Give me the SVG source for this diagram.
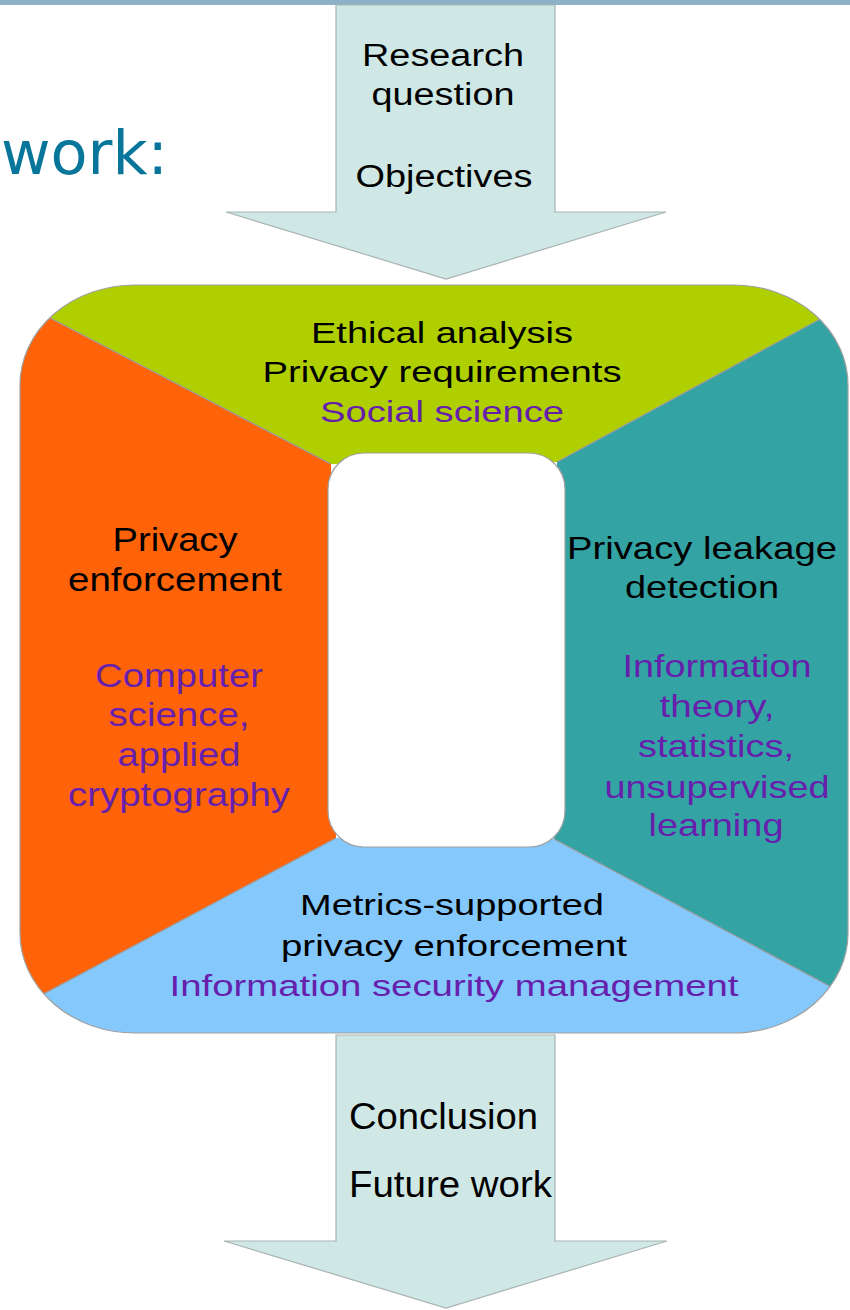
<svg xmlns="http://www.w3.org/2000/svg" width="850" height="1310" viewBox="0 0 850 1310">
<style>
.t{font-family:"Liberation Sans",Arial,sans-serif;fill:#000}
.p{font-family:"Liberation Sans",Arial,sans-serif;fill:#6620ac}
.arrow{fill:#cfe8e5;stroke:#a9b3b3;stroke-width:1.2}
.div{stroke:#9a9a9a;stroke-width:1.2;fill:none}
</style>
<defs>
<clipPath id="outer"><rect x="20" y="285" width="828" height="748" rx="115" ry="100"/></clipPath>
</defs>
<rect x="0" y="0" width="850" height="5" fill="#8db1c8"/>
<g id="title">
<text x="1" y="174" font-family="DejaVu Sans,Verdana,sans-serif" font-size="61" fill="#08759a" textLength="167" lengthAdjust="spacingAndGlyphs">work:</text>
</g>
<g id="connectors">
<polygon class="arrow" points="336,5 555,5 555,212 666,212 446,279 226,212 336,212"/>
<polygon class="arrow" points="336,1035 555,1035 555,1241 667,1241 446,1308 224,1241 336,1241"/>
</g>
<g id="arrow-in">
<text class="t" x="443" y="66" font-size="31" text-anchor="middle" textLength="162" lengthAdjust="spacingAndGlyphs">Research</text>
<text class="t" x="443" y="105" font-size="31" text-anchor="middle" textLength="143" lengthAdjust="spacingAndGlyphs">question</text>
<text class="t" x="444" y="187" font-size="31" text-anchor="middle" textLength="177" lengthAdjust="spacingAndGlyphs">Objectives</text>
</g>
<g id="cycle" clip-path="url(#outer)">
<g id="ethical">
<polygon points="0,292 0,280 850,280 850,302.8 557,462 331,464" fill="#afcf00"/>
</g>
<g id="enforcement">
<polygon points="0,292 331,464 336,838 0,1017.2" fill="#ff630a"/>
</g>
<g id="leakage">
<polygon points="850,302.8 557,462 554,839 850,997" fill="#34a3a4"/>
</g>
<g id="metrics">
<polygon points="0,1017.2 336,838 554,839 850,997 850,1040 0,1040" fill="#84c8fc"/>
</g>
<path class="div" d="M0,292 L331,464 M850,302.8 L557,462 M0,1017.2 L336,838 M850,997 L554,839"/>
</g>
<rect x="20" y="285" width="828" height="748" rx="115" ry="100" fill="none" stroke="#a0a0a0" stroke-width="1.2"/>
<g id="center">
<rect x="328" y="453" width="237" height="394" rx="36" ry="36" fill="#fff" stroke="#a0a0a0" stroke-width="1.2"/>
</g>
<g id="ethical-text">
<text class="t" x="442" y="343" font-size="30" text-anchor="middle" textLength="262" lengthAdjust="spacingAndGlyphs">Ethical analysis</text>
<text class="t" x="442" y="382" font-size="30" text-anchor="middle" textLength="359" lengthAdjust="spacingAndGlyphs">Privacy requirements</text>
<text class="p" x="442" y="422" font-size="30" text-anchor="middle" textLength="244" lengthAdjust="spacingAndGlyphs">Social science</text>
</g>
<g id="enforcement-text">
<text class="t" x="175" y="551" font-size="34" text-anchor="middle" textLength="125" lengthAdjust="spacingAndGlyphs">Privacy</text>
<text class="t" x="175" y="591" font-size="34" text-anchor="middle" textLength="214" lengthAdjust="spacingAndGlyphs">enforcement</text>
<text class="p" x="179" y="687" font-size="34" text-anchor="middle" textLength="168" lengthAdjust="spacingAndGlyphs">Computer</text>
<text class="p" x="179" y="726" font-size="34" text-anchor="middle" textLength="141" lengthAdjust="spacingAndGlyphs">science,</text>
<text class="p" x="179" y="766" font-size="34" text-anchor="middle" textLength="123" lengthAdjust="spacingAndGlyphs">applied</text>
<text class="p" x="179" y="806" font-size="34" text-anchor="middle" textLength="222" lengthAdjust="spacingAndGlyphs">cryptography</text>
</g>
<g id="leakage-text">
<text class="t" x="702" y="559" font-size="32" text-anchor="middle" textLength="270" lengthAdjust="spacingAndGlyphs">Privacy leakage</text>
<text class="t" x="702" y="598" font-size="32" text-anchor="middle" textLength="154" lengthAdjust="spacingAndGlyphs">detection</text>
<text class="p" x="717" y="677" font-size="32" text-anchor="middle" textLength="189" lengthAdjust="spacingAndGlyphs">Information</text>
<text class="p" x="717" y="717" font-size="32" text-anchor="middle" textLength="115" lengthAdjust="spacingAndGlyphs">theory,</text>
<text class="p" x="716" y="757" font-size="32" text-anchor="middle" textLength="156" lengthAdjust="spacingAndGlyphs">statistics,</text>
<text class="p" x="717" y="798" font-size="32" text-anchor="middle" textLength="225" lengthAdjust="spacingAndGlyphs">unsupervised</text>
<text class="p" x="716" y="836" font-size="32" text-anchor="middle" textLength="135" lengthAdjust="spacingAndGlyphs">learning</text>
</g>
<g id="metrics-text">
<text class="t" x="452" y="915" font-size="30" text-anchor="middle" textLength="304" lengthAdjust="spacingAndGlyphs">Metrics-supported</text>
<text class="t" x="454" y="956" font-size="30" text-anchor="middle" textLength="346" lengthAdjust="spacingAndGlyphs">privacy enforcement</text>
<text class="p" x="454" y="996" font-size="30" text-anchor="middle" textLength="569" lengthAdjust="spacingAndGlyphs">Information security management</text>
</g>
<g id="arrow-out">
<text class="t" x="349" y="1129" font-size="36" textLength="189" lengthAdjust="spacingAndGlyphs">Conclusion</text>
<text class="t" x="349" y="1197" font-size="36" textLength="203" lengthAdjust="spacingAndGlyphs">Future work</text>
</g>
</svg>
